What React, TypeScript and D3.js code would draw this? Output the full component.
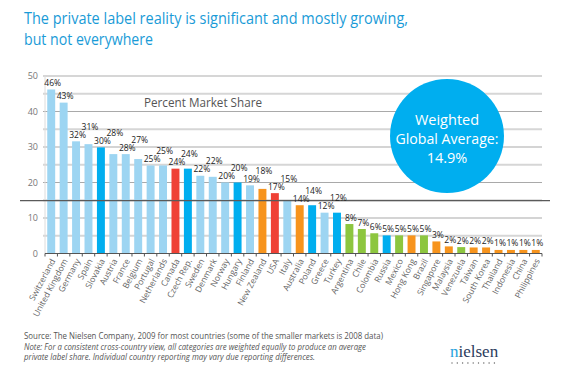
import React from "react";
import * as d3 from "d3";

const countries = [
  "Switzerland", "United Kingdom", "Germany", "Spain", "Slovakia", "Austria", "France", "Belgium",
  "Portugal", "Netherlands", "Canada", "Czech Rep.", "Sweden", "Denmark", "Norway", "Hungary",
  "Finland", "New Zealand", "USA", "Italy", "Australia", "Poland", "Greece", "Turkey",
  "Argentina", "Chile", "Colombia", "Russia", "Mexico", "Hong Kong", "Brazil", "Singapore",
  "Malaysia", "Venezuela", "Taiwan", "South Korea", "Thailand", "Indonesia", "China", "Philippines",
];
const shares = [
  46.2, 42.5, 31.6, 30.8, 29.9, 28, 28, 26.6,
  24.8, 24.8, 23.9, 23.9, 21.9, 21.6, 20, 20,
  19.2, 18.2, 17, 15, 13.6, 13.6, 11.5, 11.5,
  8.3, 6.9, 5.7, 5.1, 5.1, 5.1, 5.1, 3.4,
  2, 1.8, 1.7, 1.7, 1, 1, 1, 1,
];
const labels = [
  "46%", "43%", "32%", "31%", "30%", "28%", "28%", "27%",
  "25%", "25%", "24%", "24%", "22%", "22%", "20%", "20%",
  "19%", "18%", "17%", "15%", "14%", "14%", "12%", "12%",
  "8%", "7%", "6%", "5%", "5%", "5%", "5%", "3%",
  "2%", "2%", "2%", "2%", "1%", "1%", "1%", "1%",
];
// group: l = light blue, b = blue, r = red, o = orange, g = green
const groups = [
  "l", "l", "l", "l", "b", "l", "l", "l",
  "l", "l", "r", "b", "l", "l", "l", "b",
  "l", "o", "r", "l", "o", "b", "l", "b",
  "g", "g", "g", "b", "g", "o", "g", "o",
  "o", "g", "o", "o", "o", "o", "o", "o",
];
const yTicks = [0, 10, 20, 30, 40, 50];
const gridValues = [5, 10, 15, 20, 25, 30, 35, 40, 45, 50];
const globalAverage = 14.9;

const colorOf: Record<string, string> = {
  l: "#9dd5f2",
  b: "#00aeef",
  r: "#ef4136",
  o: "#f7941d",
  g: "#8dc63f",
};

const W = 569;
const H = 376;
const FONT = "'Open Sans', 'Noto Sans', sans-serif";

export default function App() {
  const x = d3.scaleBand<string>().domain(countries).range([45, 542]).paddingInner(0.36).paddingOuter(0.18);
  const y = d3.scaleLinear().domain([0, 50]).range([253.5, 76]);
  const step = x.step();
  const bw = x.bandwidth();

  // greedy label placement to avoid overlaps
  const placed: { cx: number; y: number; w: number }[] = [];
  labels.forEach((t, i) => {
    const cx = (x(countries[i]) as number) + bw / 2 + 1.5;
    const w = t.length * 5.4;
    let ly = y(shares[i]) - 3.5;
    const prev = placed[i - 1];
    if (prev) {
      const hOverlap = Math.abs(cx - prev.cx) < (w + prev.w) / 2 - 1.5;
      if (hOverlap && Math.abs(ly - prev.y) < 7.5) ly = Math.min(ly, prev.y - 8);
    }
    placed.push({ cx, y: ly, w });
  });

  const dots = d3.range(9);

  return (
    <svg width={W} height={H} style={{ position: "absolute", left: 0, top: 0, background: "#fff" }} fontFamily={FONT}>
      {/* title */}
      <text x={24} y={24} fontSize={17} fill="#1a9bd7" textLength={384} lengthAdjust="spacingAndGlyphs">
        The private label reality is significant and mostly growing,
      </text>
      <text x={24} y={45} fontSize={17} fill="#1a9bd7" textLength={129} lengthAdjust="spacingAndGlyphs">
        but not everywhere
      </text>

      {/* grid */}
      {gridValues.map((v) => (
        <line
          key={"g" + v}
          x1={43}
          x2={542}
          y1={y(v)}
          y2={y(v)}
          stroke={v % 10 === 0 && v !== 50 ? "#a9a9a9" : "#d6d6d6"}
          strokeWidth={v % 10 === 0 && v !== 50 ? 1 : 2}
        />
      ))}

      {/* y axis */}
      <line x1={45} x2={45} y1={y(0)} y2={y(50)} stroke="#dcdcdc" strokeWidth={1} />
      {yTicks.map((v) => (
        <text key={"yt" + v} x={38} y={y(v) + 3} fontSize={9} fill="#777" textAnchor="end">
          {v}
        </text>
      ))}

      {/* bars */}
      {countries.map((c, i) => (
        <rect
          key={c}
          x={x(c)}
          y={y(shares[i])}
          width={bw}
          height={y(0) - y(shares[i])}
          fill={colorOf[groups[i]]}
        />
      ))}

      {/* x axis */}
      <line x1={45} x2={542} y1={y(0)} y2={y(0)} stroke="#555" strokeWidth={1.2} />
      {d3.range(countries.length + 1).map((i) => (
        <line
          key={"xt" + i}
          x1={45 + i * step}
          x2={45 + i * step}
          y1={y(0)}
          y2={y(0) + 3}
          stroke="#555"
          strokeWidth={1}
        />
      ))}

      {/* average line */}
      <line x1={20} x2={550} y1={y(globalAverage)} y2={y(globalAverage)} stroke="#5a5a5a" strokeWidth={1.3} />

      {/* value labels */}
      {labels.map((t, i) => (
        <text key={"lb" + i} x={placed[i].cx} y={placed[i].y} fontSize={8.5} fill="#222" textAnchor="middle">
          {t}
        </text>
      ))}

      {/* country labels */}
      {countries.map((c) => {
        const cx = (x(c) as number) + bw / 2 + 2;
        const cy = y(0) + 6;
        return (
          <text
            key={"cl" + c}
            transform={`translate(${cx},${cy}) rotate(-62)`}
            fontSize={8.5}
            fill="#666"
            textAnchor="end"
            dy="0.32em"
          >
            {c}
          </text>
        );
      })}

      {/* percent market share */}
      <text x={144} y={107} fontSize={13} fill="#555" textLength={118} lengthAdjust="spacingAndGlyphs">
        Percent Market Share
      </text>

      {/* bubble */}
      <circle cx={447} cy={136} r={57} fill="#00aeef" />
      <text x={447} y={124.5} fontSize={14.5} fill="#fff" textAnchor="middle">
        Weighted
      </text>
      <text x={447} y={143.5} fontSize={14.5} fill="#fff" textAnchor="middle" textLength={103} lengthAdjust="spacingAndGlyphs">
        Global Average:
      </text>
      <text x={447} y={162.5} fontSize={14.5} fill="#fff" textAnchor="middle">
        14.9%
      </text>

      {/* footnotes */}
      <text x={24} y={339} fontSize={8.5} fill="#555" textLength={359} lengthAdjust="spacingAndGlyphs">
        Source: The Nielsen Company, 2009 for most countries (some of the smaller markets is 2008 data)
      </text>
      <text x={24} y={350} fontSize={8.3} fill="#555" fontStyle="italic" textLength={342} lengthAdjust="spacingAndGlyphs">
        Note: For a consistent cross-country view, all categories are weighted equally to produce an average
      </text>
      <text x={24} y={359.5} fontSize={8.3} fill="#555" fontStyle="italic" textLength={291} lengthAdjust="spacingAndGlyphs">
        private label share. Individual country reporting may vary due reporting differences.
      </text>

      {/* logo */}
      <text x={450} y={357} fontSize={17} fontFamily="'Liberation Serif', 'DejaVu Serif', serif" fill="#2b3b5c">
        <tspan fill="#29a3dd">n</tspan>ielsen
      </text>
      {dots.map((d) => (
        <circle key={"d" + d} cx={452 + d * 5.3} cy={363} r={0.7} fill="#666" />
      ))}
    </svg>
  );
}
